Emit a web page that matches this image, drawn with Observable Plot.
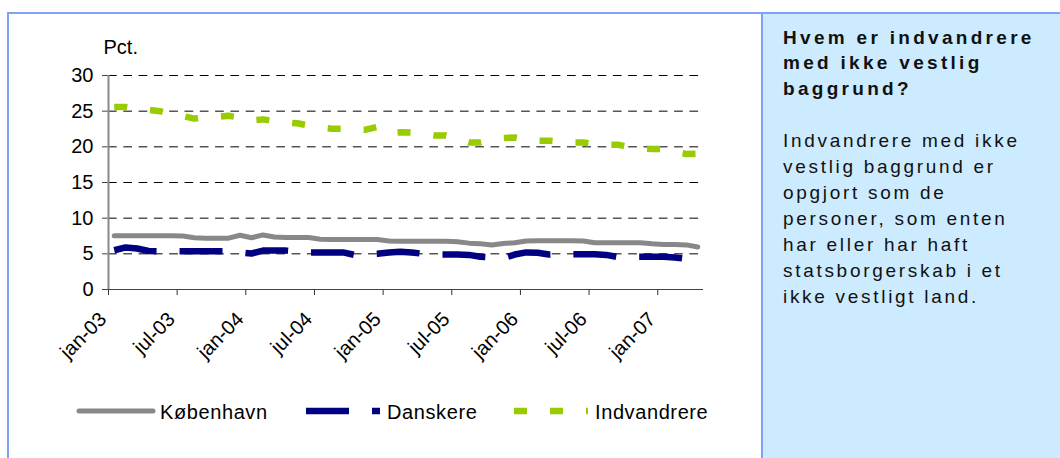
<!DOCTYPE html>
<html><head><meta charset="utf-8">
<script src="https://cdn.jsdelivr.net/npm/d3@7"></script>
<script src="https://cdn.jsdelivr.net/npm/@observablehq/plot@0.6"></script>
<style>
html,body{margin:0;padding:0;background:#fff;}
body{width:1060px;height:458px;overflow:hidden;position:relative;font-family:"Liberation Sans",Arial,sans-serif;}
#leftbox{position:absolute;left:7px;top:12px;width:760px;height:480px;border-left:2px solid #7ea3f6;border-top:2px solid #7ea3f6;box-sizing:border-box;}
#rightbox{position:absolute;left:761px;top:12px;width:320px;height:480px;background:#cdebff;border:2px solid #7ea3f6;box-sizing:border-box;}
#chart{position:absolute;left:0;top:0;}
#legend{position:absolute;left:0;top:380px;}
.head{position:absolute;left:783px;top:24.6px;font-weight:bold;font-size:19px;letter-spacing:3.3px;line-height:25.5px;color:#111;white-space:nowrap;}
.body{position:absolute;left:783px;top:128px;font-size:19px;letter-spacing:2.7px;line-height:26px;color:#111;white-space:nowrap;}
</style>
</head><body>
<div id="leftbox"></div>
<div id="rightbox"></div>
<div id="chart"></div>
<div id="legend"></div>
<div class="head">Hvem er indvandrere<br>med ikke vestlig<br>baggrund?</div>
<div class="body">Indvandrere med ikke<br>vestlig baggrund er<br>opgjort som de<br>personer, som enten<br>har eller har haft<br>statsborgerskab i et<br>ikke vestligt land.</div>
<script>
// Categories (months)
const months = [
  "jan-03","feb-03","mar-03","apr-03","maj-03","jun-03","jul-03","aug-03","sep-03","okt-03","nov-03","dec-03",
  "jan-04","feb-04","mar-04","apr-04","maj-04","jun-04","jul-04","aug-04","sep-04","okt-04","nov-04","dec-04",
  "jan-05","feb-05","mar-05","apr-05","maj-05","jun-05","jul-05","aug-05","sep-05","okt-05","nov-05","dec-05",
  "jan-06","feb-06","mar-06","apr-06","maj-06","jun-06","jul-06","aug-06","sep-06","okt-06","nov-06","dec-06",
  "jan-07","feb-07","mar-07","apr-07"
];
// Series values (pct.)
const kobenhavn = [
  7.55,7.55,7.55,7.55,7.55,7.55,7.5,7.25,7.2,7.2,7.2,7.6,
  7.25,7.65,7.35,7.3,7.3,7.3,7.05,7.0,7.0,7.0,7.0,7.0,
  6.8,6.75,6.75,6.75,6.75,6.75,6.7,6.5,6.4,6.25,6.45,6.55,
  6.8,6.85,6.85,6.85,6.85,6.8,6.55,6.55,6.55,6.55,6.55,6.4,
  6.3,6.3,6.25,5.95
];
const danskere = [
  5.5,5.9,5.75,5.4,5.35,5.35,5.35,5.35,5.35,5.35,5.35,5.2,
  5.05,5.45,5.45,5.45,5.3,5.2,5.2,5.2,5.2,4.85,4.9,5.0,
  5.2,5.3,5.2,5.0,4.9,4.9,4.9,4.85,4.6,4.5,4.4,4.9,
  5.2,5.15,4.9,4.95,4.95,4.95,4.95,4.85,4.55,4.6,4.6,4.6,
  4.6,4.5,4.3,4.3
];
const indvandrere = [
  25.6,25.6,25.3,25.2,25.0,24.6,24.3,23.95,24.2,24.2,24.35,24.1,
  23.7,23.85,23.6,23.4,23.3,23.0,22.7,22.55,22.55,22.4,22.4,22.8,
  21.9,22.05,22.0,21.8,21.6,21.6,21.1,20.6,20.6,20.9,21.25,21.3,
  21.0,20.85,20.85,20.7,20.6,20.6,20.4,20.3,20.3,20.0,19.8,19.7,
  19.7,19.3,19.0,19.05
];
const yTicks = [0,5,10,15,20,25,30];
const tickMonths = ["jan-03","jul-03","jan-04","jul-04","jan-05","jul-05","jan-06","jul-06","jan-07"];
const seriesNames = ["København","Danskere","Indvandrere"];
const seriesColors = ["#888888","#000080","#99cc00"];

const xTickPos = tickMonths.map(m => months.indexOf(m));
const center = (d, i) => i + 0.5;

const plot = Plot.plot({
  width: 760, height: 380,
  marginLeft: 108, marginRight: 57, marginTop: 75, marginBottom: 91,
  style: {fontFamily: "'Liberation Sans', Arial, sans-serif", fontSize: "20px", background: "transparent", color: "#000"},
  x: {type: "linear", domain: [0, months.length], axis: null},
  y: {domain: [0, 30], axis: null},
  marks: [
    Plot.ruleY(yTicks.filter(v => v > 0), {stroke: "#000", strokeWidth: 1, strokeDasharray: "8.7,6.6"}),
    Plot.axisY(yTicks, {tickSize: 6, tickPadding: 9, label: null, stroke: "#444", style: "letter-spacing:0.6px"}),
    Plot.axisX(xTickPos, {tickSize: 6, tickFormat: () => "", label: null, stroke: "#333"}),
    Plot.ruleY([0], {stroke: "#444", strokeWidth: 1.2}),
    Plot.ruleX([0], {stroke: "#888", strokeWidth: 2}),
    Plot.text(xTickPos, {x: d => d, text: (d, i) => tickMonths[i], frameAnchor: "bottom", rotate: -45, textAnchor: "end", lineAnchor: "bottom", dx: -1, dy: 31, fontSize: 20}),
    Plot.text(["Pct."], {frameAnchor: "top-left", textAnchor: "start", lineAnchor: "bottom", dx: -5, dy: -22, fontSize: 20}),
    Plot.lineY(kobenhavn, {x: center, y: d => d, stroke: seriesColors[0], strokeWidth: 5, strokeLinecap: "round"}),
    Plot.lineY(danskere, {x: center, y: d => d, stroke: seriesColors[1], strokeWidth: 6.5, strokeDasharray: "43,23", strokeLinecap: "butt"}),
    Plot.lineY(indvandrere, {x: center, y: d => d, stroke: seriesColors[2], strokeWidth: 6.5, strokeDasharray: "13,23", strokeLinecap: "butt"})
  ]
});
document.getElementById("chart").appendChild(plot);

// Legend
const legendItems = [
  {name: seriesNames[0], color: seriesColors[0], width: 5, dash: null, x0: 79},
  {name: seriesNames[1], color: seriesColors[1], width: 6.5, dash: "43,23", x0: 306},
  {name: seriesNames[2], color: seriesColors[2], width: 6.5, dash: "13,23", x0: 514}
];
const svg = d3.select("#legend").append("svg").attr("width", 760).attr("height", 60)
  .style("font-family", "'Liberation Sans', Arial, sans-serif");
legendItems.forEach(it => {
  const ln = svg.append("line").attr("x1", it.x0).attr("x2", it.x0 + 74).attr("y1", 31).attr("y2", 31)
    .attr("stroke", it.color).attr("stroke-width", it.width)
    .attr("stroke-linecap", it.dash ? "butt" : "round");
  if (it.dash) ln.attr("stroke-dasharray", it.dash);
  svg.append("text").attr("x", it.x0 + 74 + (it.dash ? 7 : 7)).attr("y", 38.5)
    .attr("font-size", 20).style("letter-spacing", "0.6px").attr("fill", "#000").text(it.name);
});
</script>
</body></html>
